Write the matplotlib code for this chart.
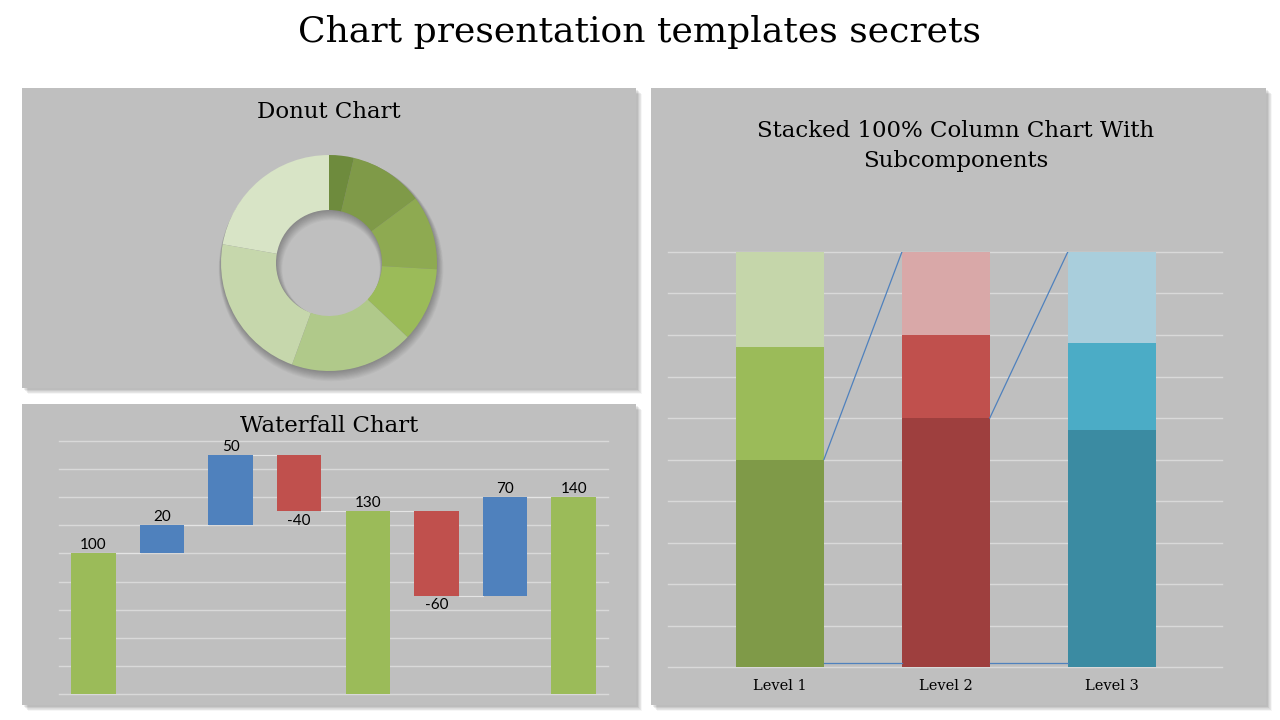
import numpy as np
import matplotlib
matplotlib.use("Agg")
import matplotlib.pyplot as plt
from matplotlib.patches import Rectangle, Wedge

# ---- Data ----
donut_values = [5, 15, 15, 15, 25, 30, 30]
donut_colors = ["#6E8B3D", "#7F9A48", "#8EAA51", "#9BBB59", "#B0C98A", "#C6D7AC", "#D8E4C6"]

wf_values = [100, 20, 50, -40, 130, -60, 70, 140]
wf_labels = ["100", "20", "50", "-40", "130", "-60", "70", "140"]
wf_total = [True, False, False, False, True, False, False, True]

levels = ["Level 1", "Level 2", "Level 3"]
part_low = [50, 60, 57]
part_mid = [27, 20, 21]
part_top = [23, 20, 22]
level_colors = [["#7F9A48", "#9BBB59", "#C5D6AA"],
                ["#9E3F3E", "#C0504D", "#D9A8A8"],
                ["#3B8BA2", "#4BACC6", "#A9CEDC"]]

W, H = 1280, 720
PANEL = "#BFBFBF"
GRID = "#D9D9D9"
SERIF = "DejaVu Serif"


def px(x0, y0, x1, y1):
    # pixel box (top-left origin) -> figure fraction rect
    return [x0 / W, 1 - y1 / H, (x1 - x0) / W, (y1 - y0) / H]


fig = plt.figure(figsize=(12.8, 7.2), dpi=100)
fig.patch.set_facecolor("white")

# ------------------------------
# Background panels
# ------------------------------
bg = fig.add_axes([0, 0, 1, 1])
bg.set_xlim(0, W)
bg.set_ylim(H, 0)
bg.axis("off")


def panel(x0, y0, x1, y1):
    for k in range(8, 0, -1):
        bg.add_patch(Rectangle((x0 + 1 + k * 0.6, y0 + 1 + k * 0.6), x1 - x0, y1 - y0,
                               facecolor="black", edgecolor="none", alpha=0.035))
    bg.add_patch(Rectangle((x0, y0), x1 - x0, y1 - y0, facecolor=PANEL, edgecolor="none"))


panel(22, 88, 636, 388)
panel(22, 404, 636, 705)
panel(651, 88, 1266, 705)

bg.text(640, 32, "Chart presentation templates secrets", ha="center", va="center",
        fontsize=26, family=SERIF, color="black")
bg.text(329, 112, "Donut Chart", ha="center", va="center", fontsize=16.5, family=SERIF)
bg.text(329, 426, "Waterfall Chart", ha="center", va="center", fontsize=16.5, family=SERIF)
bg.text(956, 146, "Stacked 100% Column Chart With\nSubcomponents", ha="center", va="center",
        fontsize=16.5, family=SERIF, linespacing=1.45)

# ------------------------------
# Donut chart
# ------------------------------
ax_d = fig.add_axes(px(329 - 120, 263 - 120, 329 + 120, 263 + 120))
ax_d.set_xlim(-1, 1)
ax_d.set_ylim(-1, 1)
ax_d.set_aspect("equal")
ax_d.axis("off")
R = 0.9
ring = R * (1 - 53 / 108)
# soft drop shadow, shifted down-right
for k in range(10):
    off = 0.004 + k * 0.005
    ax_d.add_patch(Wedge((off * 0.35, -off), R + 0.004 * k, 0, 360, width=ring + 0.008 * k,
                         facecolor="black", edgecolor="none", alpha=0.03, zorder=1))
ax_d.pie(donut_values, colors=donut_colors, startangle=90, counterclock=False,
         radius=R, wedgeprops=dict(width=ring, edgecolor="none", zorder=2))
ax_d.set_xlim(-1, 1)
ax_d.set_ylim(-1, 1)

# ------------------------------
# Waterfall chart
# ------------------------------
ax_w = fig.add_axes(px(59, 441, 608, 694))
ax_w.set_facecolor("none")
for s in ax_w.spines.values():
    s.set_visible(False)
ax_w.set_xticks([])
ax_w.set_yticks([])
ax_w.set_xlim(-0.5, 7.5)
ax_w.set_ylim(0, 180)
for g in range(0, 181, 20):
    ax_w.axhline(g, color=GRID, lw=1, zorder=0, clip_on=False)

bottoms, heights, colors = [], [], []
running = 0
for v, t in zip(wf_values, wf_total):
    if t:
        bottoms.append(0); heights.append(v); colors.append("#9BBB59")
        running = v
    elif v > 0:
        bottoms.append(running); heights.append(v); colors.append("#4F81BD")
        running += v
    else:
        bottoms.append(running + v); heights.append(-v); colors.append("#C0504D")
        running += v

bw = 0.65
x = np.arange(len(wf_values))
ax_w.bar(x, heights, bottom=bottoms, width=bw, color=colors, zorder=2)

# connectors
level = 0
for i, (v, t) in enumerate(zip(wf_values, wf_total)):
    level = v if t else level + v
    if i < len(wf_values) - 1:
        ax_w.plot([i + bw / 2, i + 1 - bw / 2], [level, level], color="#E4E4E4", lw=0.8, zorder=1)

for i, (v, lab) in enumerate(zip(wf_values, wf_labels)):
    if v >= 0:
        ax_w.annotate(lab, (i, bottoms[i] + heights[i]), xytext=(0, 1), textcoords="offset points",
                      ha="center", va="bottom", fontsize=11, family="Lato", color="black")
    else:
        ax_w.annotate(lab, (i, bottoms[i]), xytext=(0, -2), textcoords="offset points",
                      ha="center", va="top", fontsize=11, family="Lato", color="black")

# ------------------------------
# Stacked 100% column chart
# ------------------------------
ax_s = fig.add_axes(px(668, 252, 1222, 667))
ax_s.set_facecolor("none")
for s in ax_s.spines.values():
    s.set_visible(False)
ax_s.set_xlim(-0.675, 2.665)
ax_s.set_ylim(0, 100)
ax_s.set_yticks([])
for g in range(0, 101, 10):
    ax_s.axhline(g, color=GRID, lw=1, zorder=0, clip_on=False)

sw = 0.53
xs = np.arange(len(levels))
for i in range(len(levels)):
    c = level_colors[i]
    ax_s.bar(xs[i], part_low[i], width=sw, color=c[0], zorder=2)
    ax_s.bar(xs[i], part_mid[i], bottom=part_low[i], width=sw, color=c[1], zorder=2)
    ax_s.bar(xs[i], part_top[i], bottom=part_low[i] + part_mid[i], width=sw, color=c[2], zorder=2)

for i in range(len(levels) - 1):
    ax_s.plot([xs[i] + sw / 2, xs[i + 1] - sw / 2], [part_low[i], 100], color="#4F81BD", lw=0.9, zorder=3)
    ax_s.plot([xs[i] + sw / 2, xs[i + 1] - sw / 2], [1, 1], color="#4F81BD", lw=0.9, zorder=3)

ax_s.set_xticks(xs)
ax_s.set_xticklabels(levels, family=SERIF, fontsize=10.5)
ax_s.tick_params(axis="x", length=0, pad=9)

fig.savefig("out.png", dpi=100)
